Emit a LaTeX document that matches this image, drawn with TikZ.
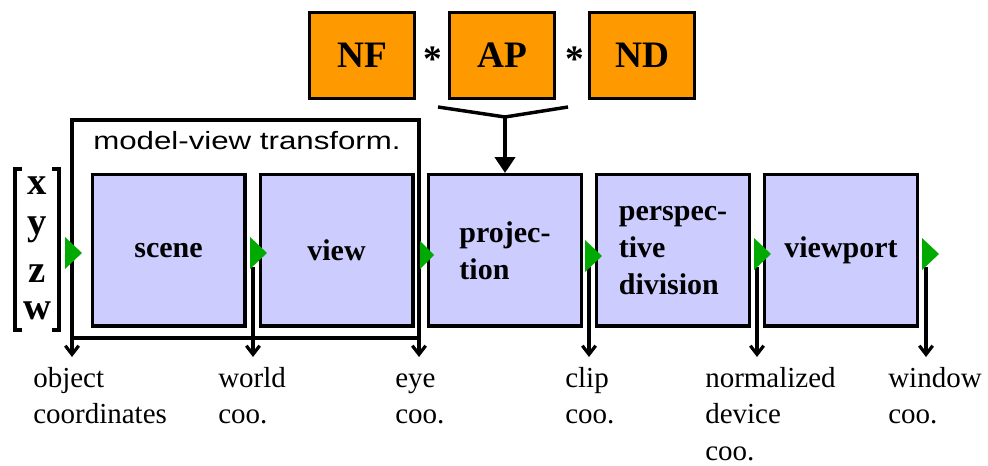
\documentclass[tikz,border=0pt]{standalone}
\usepackage{fontspec}
\setmainfont{Liberation Serif}
\newfontfamily\mvfont[FakeStretch=1.25]{Liberation Sans}
\usetikzlibrary{arrows.meta}

\definecolor{stagefill}{RGB}{204,204,255}
\definecolor{matfill}{RGB}{255,153,0}
\definecolor{flowgreen}{RGB}{0,170,0}

\begin{document}
\begin{tikzpicture}[x=0.75pt,y=0.75pt,yscale=-1,xscale=1,
  stage/.style={draw, line width=2.6pt, fill=stagefill, minimum width=114.4pt, minimum height=113.6pt, inner sep=0pt, align=left, font=\fontsize{22.5}{28}\selectfont\bfseries},
  matbox/.style={draw, line width=2.6pt, fill=matfill, minimum width=78.4pt, minimum height=64.2pt, inner sep=0pt, font=\fontsize{28}{34}\selectfont\bfseries},
  matstar/.style={anchor=base, inner sep=0pt, font=\fontsize{28}{34}\selectfont\bfseries},
  vecletter/.style={anchor=base, inner sep=0pt, font=\fontsize{29}{34}\selectfont\bfseries},
  coolabel/.style={anchor=base west, inner sep=0pt, text width=110pt, align=left, font=\fontsize{21.75}{27.5}\selectfont},
  flowtip/.style={fill=flowgreen},
  thinline/.style={line width=2.4pt},
  outarrow/.style={line width=2.4pt, -{Straight Barb[length=6.5pt,width=10pt]}},
  projarrow/.style={line width=3pt, -{Triangle[length=12pt,width=15pt]}}
]
\useasboundingbox (0,0) rectangle (988,466);

%Matrices NF * AP * ND
\node[matbox] (NF) at (362,55.5) {NF};
\node[matbox] (AP) at (502,55.5) {AP};
\node[matbox] (ND) at (642,55.5) {ND};
\node[matstar] (times1) at (433,72) {*};
\node[matstar] (times2) at (575,72) {*};

%Model-view frame
\coordinate (mvnw) at (72,120);
\coordinate (mvne) at (419,120);
\coordinate (mvsw) at (72,338);
\coordinate (mvse) at (419,338);
\coordinate (objtip) at (72,357);
\coordinate (eyetip) at (419,357);
\draw[outarrow] (mvne) -- (mvnw) -- (objtip);
\draw[outarrow] (mvnw) -- (mvne) -- (eyetip);
\draw[thinline] (mvsw) -- (mvse);
\node[anchor=base west, inner sep=0pt, font=\mvfont\fontsize{18.75}{22}\selectfont] (mvlabel) at (93,150) {model-view transform.};

%Stages
\node[stage] (scene) at (168.5,250.5) {scene};
\node[stage] (view) at (336.5,250.5) {view};
\node[stage] (proj) at (505,250.5) {projec-\\tion};
\node[stage] (persp) at (673,250.5) {perspec-\\tive\\division};
\node[stage] (vport) at (841,250.5) {viewport};

%Projection input
\coordinate (apleft) at (438,107);
\coordinate (apjoin) at (505,117);
\coordinate (apright) at (568,107);
\draw[line width=2.6pt] (apleft) -- (apjoin) -- (apright);
\draw[projarrow] (apjoin) -- (proj);

%Vector
\draw[line width=3pt] (22,169) -- (15,169) -- (15,330) -- (22,330);
\draw[line width=3pt] (52,169) -- (59,169) -- (59,330) -- (52,330);
\node[vecletter] (vx) at (37,195) {x};
\node[vecletter] (vy) at (37,235) {y};
\node[vecletter] (vz) at (37,283) {z};
\node[vecletter] (vw) at (37,320) {w};

%Down arrows
\coordinate (worldtop) at (253,267);
\coordinate (worldtip) at (253,357);
\coordinate (cliptop) at (589,267);
\coordinate (cliptip) at (589,357);
\coordinate (ndctop) at (757,267);
\coordinate (ndctip) at (757,357);
\coordinate (wintop) at (926,267);
\coordinate (wintip) at (926,357);
\draw[outarrow] (worldtop) -- (worldtip);
\draw[outarrow] (cliptop) -- (cliptip);
\draw[outarrow] (ndctop) -- (ndctip);
\draw[outarrow] (wintop) -- (wintip);

%Green flow marks
\fill[flowtip] (65,237) -- (82,253) -- (65,269) -- cycle;
\fill[flowtip] (250,237) -- (267,253) -- (250,269) -- cycle;
\fill[flowtip] (420,241) -- (434,255) -- (420,269) -- cycle;
\fill[flowtip] (585,240) -- (602,256) -- (585,272) -- cycle;
\fill[flowtip] (754,238) -- (771,254) -- (754,270) -- cycle;
\fill[flowtip] (922,238) -- (939,254) -- (922,270) -- cycle;

% Text Node
\node[coolabel] (objlabel) at (33,387) {object\\coordinates};
\node[coolabel] (worldlabel) at (218,387) {world\\coo.};
\node[coolabel] (eyelabel) at (395,387) {eye\\coo.};
\node[coolabel] (cliplabel) at (565,387) {clip\\coo.};
\node[coolabel] (ndclabel) at (705,387) {normalized\\device\\coo.};
\node[coolabel] (winlabel) at (888,387) {window\\coo.};

\end{tikzpicture}
\end{document}
